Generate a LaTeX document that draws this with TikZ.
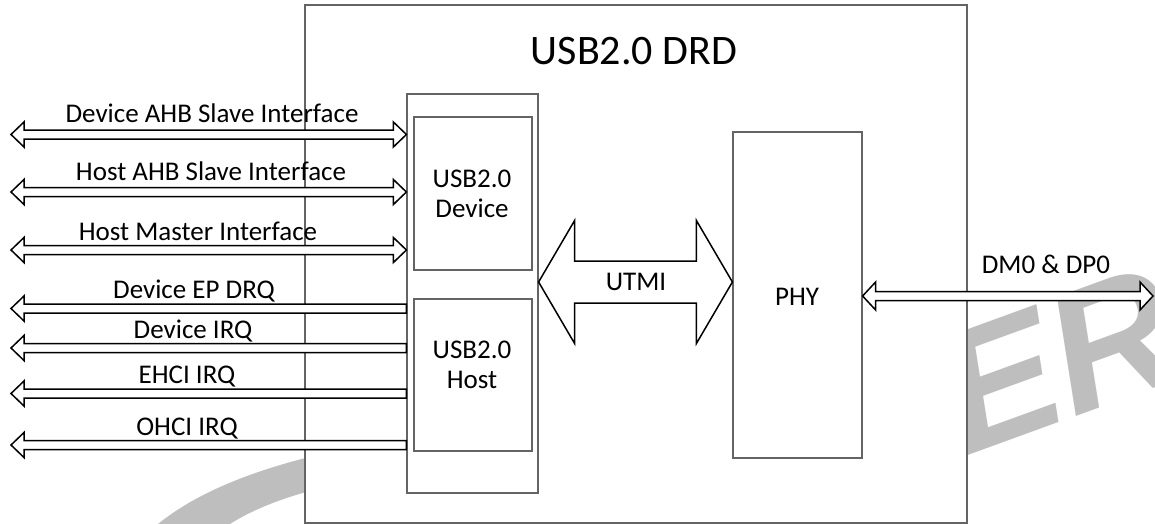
\documentclass[tikz,border=0pt]{standalone}
\usepackage{fontspec}
\setmainfont{Carlito}
\newfontfamily\wmfont{Liberation Sans}
\usetikzlibrary{calc}
\definecolor{boxgray}{RGB}{100,100,100}
\definecolor{wmgray}{RGB}{190,190,190}
\newcommand\hollowdbl[5]{%
  \draw[arr] (#1) -- ($(#1)+(#3,-#4)$) -- ($(#1)+(#3,-#5)$) -- ($(#2)+(-#3,-#5)$) -- ($(#2)+(-#3,-#4)$) -- (#2)
    -- ($(#2)+(-#3,#4)$) -- ($(#2)+(-#3,#5)$) -- ($(#1)+(#3,#5)$) -- ($(#1)+(#3,#4)$) -- cycle;}
\newcommand\hollowleft[5]{%
  \draw[arr] (#1) -- ($(#1)+(#3,-#4)$) -- ($(#1)+(#3,-#5)$) -- ($(#2)+(0,-#5)$) -- ($(#2)+(0,#5)$)
    -- ($(#1)+(#3,#5)$) -- ($(#1)+(#3,#4)$) -- cycle;}
\begin{document}
\begin{tikzpicture}[x=1pt,y=-1pt,
  box/.style={draw=boxgray, line width=1.2pt, fill=white, inner sep=0pt},
  arr/.style={draw=black, line width=1.5pt, fill=white, line join=miter},
  lbl/.style={font=\fontsize{27}{32}\selectfont, anchor=base, inner sep=0pt},
  ttl/.style={font=\fontsize{42}{48}\selectfont, anchor=base, inner sep=0pt},
  wmtext/.style={text=wmgray, font=\wmfont\bfseries\itshape\fontsize{172}{172}\selectfont, inner sep=0pt},
]
\useasboundingbox[fill=white] (0,0) rectangle (1155,524);
% watermark
\fill[wmgray] (158,524) .. controls (200,490) and (260,468) .. (330,452) -- (330,486) .. controls (290,495) and (255,508) .. (230,524) -- cycle;
\node[wmtext, rotate=20] (wm) at (1058,360) {ER};
% boxes
\node[box, minimum width=662, minimum height=518] (drd) at (636,264) {};
\node[ttl] (title) at (634,65) {USB2.0 DRD};
\node[box, minimum width=131, minimum height=399] (outer) at (472.5,293.5) {};
\node[box, minimum width=118, minimum height=153] (dev) at (473,193.5) {};
\node[box, minimum width=118, minimum height=152] (host) at (473,375) {};
\node[box, minimum width=129, minimum height=326] (phy) at (797.5,295) {};
\node[lbl] (devt1) at (472,187) {USB2.0};
\node[lbl] (devt2) at (472,217) {Device};
\node[lbl] (hostt1) at (472,358) {USB2.0};
\node[lbl] (hostt2) at (472,388) {Host};
\node[lbl] (phyt) at (797,305) {PHY};
% left bidirectional interfaces
\coordinate (d1L) at (11,134.5); \coordinate (d1R) at (outer.west |- d1L);
\coordinate (d2L) at (11,192);   \coordinate (d2R) at (outer.west |- d2L);
\coordinate (d3L) at (11,250);   \coordinate (d3R) at (outer.west |- d3L);
\hollowdbl{d1L}{d1R}{13}{12.5}{4.5}
\hollowdbl{d2L}{d2R}{13}{12.5}{4.5}
\hollowdbl{d3L}{d3R}{13}{12.5}{4.5}
\node[lbl] (l1) at (212,122) {Device AHB Slave Interface};
\node[lbl] (l2) at (211,180) {Host AHB Slave Interface};
\node[lbl] (l3) at (198,240) {Host Master Interface};
% left outputs
\coordinate (s1L) at (11,308.5); \coordinate (s1R) at (outer.west |- s1L);
\coordinate (s2L) at (11,348);   \coordinate (s2R) at (outer.west |- s2L);
\coordinate (s3L) at (11,393.5); \coordinate (s3R) at (outer.west |- s3L);
\coordinate (s4L) at (11,445);   \coordinate (s4R) at (outer.west |- s4L);
\hollowleft{s1L}{s1R}{13}{12.5}{4.5}
\hollowleft{s2L}{s2R}{13}{12.5}{4.5}
\hollowleft{s3L}{s3R}{13}{12.5}{4.5}
\hollowleft{s4L}{s4R}{13}{12.5}{4.5}
\node[lbl] (l4) at (194,298) {Device EP DRQ};
\node[lbl] (l5) at (193,338) {Device IRQ};
\node[lbl] (l6) at (187,383) {EHCI IRQ};
\node[lbl] (l7) at (187,435) {OHCI IRQ};
% UTMI
\coordinate (uL) at (outer.east |- 0,282); \coordinate (uR) at (phy.west |- uL);
\hollowdbl{uL}{uR}{36}{61.5}{21}
\node[lbl] (utmi) at (636,290) {UTMI};
% DM0 & DP0
\coordinate (pL) at (phy.east |- 0,296); \coordinate (pR) at (1153,296);
\hollowdbl{pL}{pR}{13}{14}{4.5}
\node[lbl] (dm) at (1046,273) {DM0 \& DP0};
\end{tikzpicture}
\end{document}
